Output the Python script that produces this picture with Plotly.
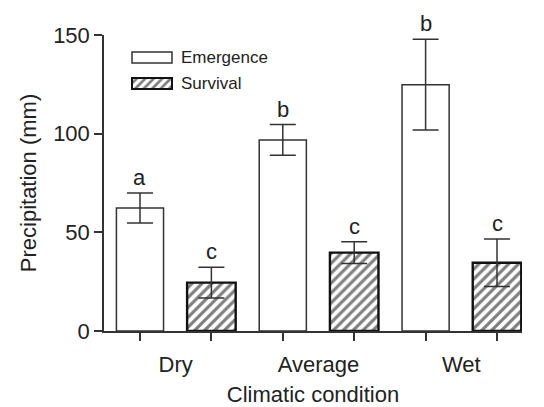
import plotly.graph_objects as go

categories = ["Dry", "Average", "Wet"]
emergence = [62.3, 96.8, 124.8]
emergence_err = [7.6, 7.8, 23.0]
survival = [24.5, 39.7, 34.6]
survival_err = [7.8, 5.5, 12.0]
emergence_letters = ["a", "b", "b"]
survival_letters = ["c", "c", "c"]
yticks = [0, 50, 100, 150]

FONT = "Liberation Sans, Arial, Helvetica, sans-serif"
TXT = "#222222"
LINE = "#333333"

n = len(categories)
x_em = [2 * i for i in range(n)]
x_su = [2 * i + 1 for i in range(n)]
x_mid = [2 * i + 0.5 for i in range(n)]

fig = go.Figure()
fig.add_trace(go.Bar(
    x=x_em, y=emergence, width=0.66, name="Emergence",
    marker=dict(color="white", line=dict(color=LINE, width=1.5)),
    error_y=dict(type="data", array=emergence_err, color=LINE, thickness=1.5, width=13),
    showlegend=False,
))
fig.add_trace(go.Bar(
    x=x_su, y=survival, width=0.68, name="Survival",
    marker=dict(color="white", line=dict(color="#111111", width=2.4),
                pattern=dict(shape="/", fgcolor="#000000", bgcolor="white", size=7, solidity=0.45)),
    error_y=dict(type="data", array=survival_err, color=LINE, thickness=1.5, width=13),
    showlegend=False,
))

# legend swatches drawn on an overlay axis in plot-pixel units
fig.add_trace(go.Bar(
    x=[152], y=[11], base=[52], width=[40], xaxis="x2", yaxis="y2",
    marker=dict(color="white", line=dict(color=LINE, width=1.5)), showlegend=False, hoverinfo="skip",
))
fig.add_trace(go.Bar(
    x=[152], y=[11], base=[78], width=[40], xaxis="x2", yaxis="y2",
    marker=dict(color="white", line=dict(color="#111111", width=2),
                pattern=dict(shape="/", fgcolor="#000000", bgcolor="white", size=6, solidity=0.45)),
    showlegend=False, hoverinfo="skip",
))

annotations = []
for xe, v, e, l in zip(x_em, emergence, emergence_err, emergence_letters):
    annotations.append(dict(x=xe, y=v + e, text=l, showarrow=False, yanchor="bottom", yshift=1,
                            font=dict(family=FONT, size=22, color=TXT)))
for xs, v, e, l in zip(x_su, survival, survival_err, survival_letters):
    annotations.append(dict(x=xs, y=v + e, text=l, showarrow=False, yanchor="bottom", yshift=1,
                            font=dict(family=FONT, size=22, color=TXT)))
for name, yy in [("Emergence", 57.5), ("Survival", 83.5)]:
    annotations.append(dict(x=179, y=yy, xref="x2", yref="y2", text=name, showarrow=False,
                            xanchor="left", yanchor="middle",
                            font=dict(family=FONT, size=17, color=TXT)))

fig.update_layout(
    width=544, height=407,
    margin=dict(l=104, r=22, t=35, b=76),
    paper_bgcolor="white", plot_bgcolor="white",
    font=dict(family=FONT, size=22, color=TXT),
    showlegend=False,
    barmode="overlay",
    annotations=annotations,
    xaxis=dict(
        range=[-0.504, 5.35], tickvals=x_mid, ticktext=categories, ticks="",
        ticklabelstandoff=13, automargin=False,
        showline=True, linecolor=LINE, linewidth=1.5, showgrid=False, zeroline=False,
        tickfont=dict(family=FONT, size=22, color=TXT),
        minor=dict(tickvals=x_em + x_su, ticks="outside", ticklen=8, tickwidth=1.5, tickcolor=LINE),
        title=dict(text="Climatic condition", font=dict(family=FONT, size=22, color=TXT), standoff=13),
        fixedrange=True,
    ),
    yaxis=dict(
        range=[0, 150], tickvals=yticks, ticks="outside", ticklen=8, tickwidth=1.5, tickcolor=LINE,
        automargin=False,
        showline=True, linecolor=LINE, linewidth=1.5, showgrid=False, zeroline=False,
        tickfont=dict(family=FONT, size=22, color=TXT),
        title=dict(text="Precipitation (mm)", font=dict(family=FONT, size=22, color=TXT), standoff=10),
        fixedrange=True,
    ),
    xaxis2=dict(domain=[0, 1], range=[104, 522], overlaying="x", visible=False, fixedrange=True),
    yaxis2=dict(domain=[0, 1], range=[331, 35], overlaying="y", visible=False, fixedrange=True),
)

fig.write_html("out.html")
